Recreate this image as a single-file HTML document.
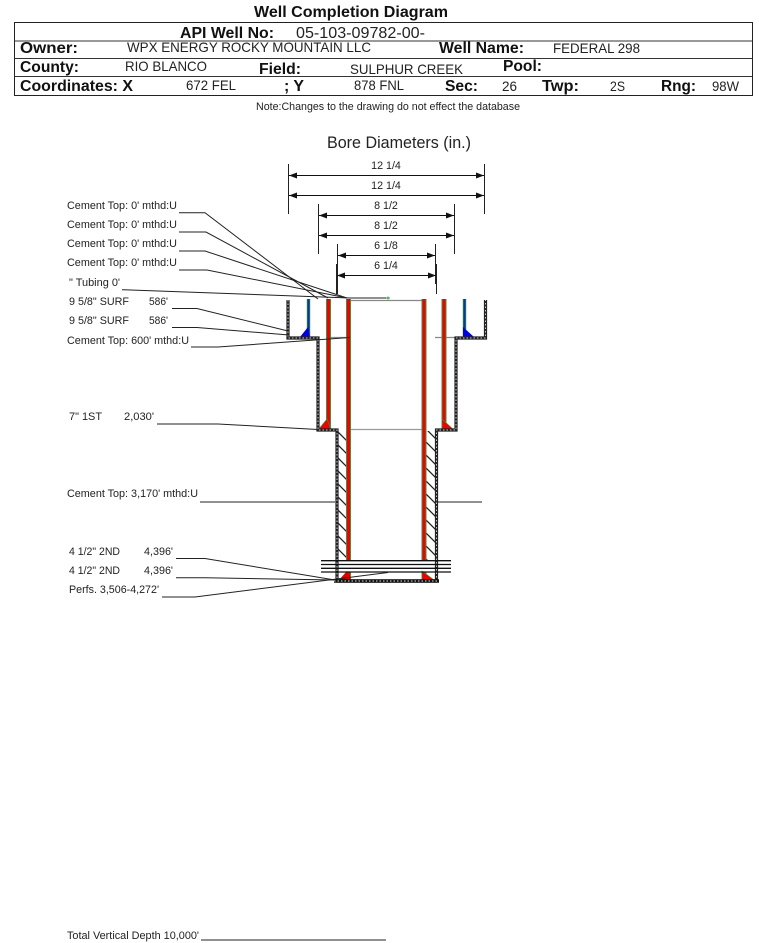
<!DOCTYPE html>
<html>
<head>
<meta charset="utf-8">
<style>
html,body{margin:0;padding:0;background:#fff;width:759px;height:943px;overflow:hidden}
svg{display:block}
text{font-family:"Liberation Sans",sans-serif;fill:#222}
.b{font-weight:bold;fill:#111;font-size:15.7px}
.s{font-size:10.7px}
.m{font-size:13.8px}
.l{fill:none;stroke:#222;stroke-width:1}
</style>
</head>
<body>
<svg width="759" height="943" viewBox="0 0 759 943" xmlns="http://www.w3.org/2000/svg">
<defs>
<pattern id="h" width="13" height="13" patternUnits="userSpaceOnUse" patternTransform="translate(337 431)">
<path d="M-2 -2L15 15M-2 11L2 15M11 -2L15 2" stroke="#222" stroke-width="1.3" fill="none"/>
</pattern>
</defs>

<!-- Header -->
<text class="b" x="254" y="17" textLength="194" lengthAdjust="spacingAndGlyphs">Well Completion Diagram</text>
<rect x="14.5" y="22.5" width="738" height="73" fill="none" stroke="#222" stroke-width="1"/>
<path d="M15 41H752M15 58.500H752M15 76.500H752" stroke="#333" stroke-width="1" fill="none"/>
<text class="b" x="180" y="38" textLength="94" lengthAdjust="spacingAndGlyphs">API Well No:</text>
<text x="296" y="38" font-size="15.5" textLength="129" lengthAdjust="spacingAndGlyphs">05-103-09782-00-</text>
<text class="b" x="20" y="53" textLength="58" lengthAdjust="spacingAndGlyphs">Owner:</text>
<text class="m" x="127" y="52" textLength="244" lengthAdjust="spacingAndGlyphs">WPX ENERGY ROCKY MOUNTAIN LLC</text>
<text class="b" x="439" y="53" textLength="85" lengthAdjust="spacingAndGlyphs">Well Name:</text>
<text class="m" x="553" y="53" textLength="87" lengthAdjust="spacingAndGlyphs">FEDERAL 298</text>
<text class="b" x="20" y="72" textLength="59" lengthAdjust="spacingAndGlyphs">County:</text>
<text class="m" x="125" y="71" textLength="82" lengthAdjust="spacingAndGlyphs">RIO BLANCO</text>
<text class="b" x="259" y="74" textLength="42" lengthAdjust="spacingAndGlyphs">Field:</text>
<text class="m" x="350" y="74" textLength="113" lengthAdjust="spacingAndGlyphs">SULPHUR CREEK</text>
<text class="b" x="503" y="71" textLength="39" lengthAdjust="spacingAndGlyphs">Pool:</text>
<text class="b" x="20" y="91" textLength="113" lengthAdjust="spacingAndGlyphs">Coordinates: X</text>
<text class="m" x="186" y="90" textLength="50" lengthAdjust="spacingAndGlyphs">672 FEL</text>
<text class="b" x="284" y="91" textLength="20" lengthAdjust="spacingAndGlyphs">; Y</text>
<text class="m" x="354" y="90" textLength="50" lengthAdjust="spacingAndGlyphs">878 FNL</text>
<text class="b" x="445" y="91" textLength="33" lengthAdjust="spacingAndGlyphs">Sec:</text>
<text class="m" x="502" y="91" textLength="15" lengthAdjust="spacingAndGlyphs">26</text>
<text class="b" x="542" y="91" textLength="37" lengthAdjust="spacingAndGlyphs">Twp:</text>
<text class="m" x="610" y="91" textLength="15" lengthAdjust="spacingAndGlyphs">2S</text>
<text class="b" x="661" y="91" textLength="35" lengthAdjust="spacingAndGlyphs">Rng:</text>
<text class="m" x="712" y="91" textLength="27" lengthAdjust="spacingAndGlyphs">98W</text>
<text class="s" x="256" y="110" textLength="264" lengthAdjust="spacingAndGlyphs">Note:Changes to the drawing do not effect the database</text>

<text x="327" y="148" font-size="16.6" textLength="144" lengthAdjust="spacingAndGlyphs">Bore Diameters (in.)</text>

<!-- Dimension ticks -->
<path class="l" d="M288.500 164V214M484.500 164V214M318.500 204V254M454.500 204V254M337.500 244V294M435.500 244V284M336.500 264V294M436.500 264V294"/>
<!-- Dimension lines -->
<g stroke="#111" stroke-width="1">
<path d="M289 175.500H484M289 195.500H484M319 215.500H454M319 235.500H454M338 255.500H435M337 275.500H436"/>
</g>
<g fill="#111">
<path d="M289 175.500l8-3v6zM484 175.500l-8-3v6zM289 195.500l8-3v6zM484 195.500l-8-3v6z"/>
<path d="M319 215.500l8-3v6zM454 215.500l-8-3v6zM319 235.500l8-3v6zM454 235.500l-8-3v6z"/>
<path d="M338 255.500l8-3v6zM435 255.500l-8-3v6zM337 275.500l8-3v6zM436 275.500l-8-3v6z"/>
</g>
<g text-anchor="middle">
<text class="s" x="386" y="169">12 1/4</text>
<text class="s" x="386" y="189">12 1/4</text>
<text class="s" x="386" y="209">8 1/2</text>
<text class="s" x="386" y="229">8 1/2</text>
<text class="s" x="386" y="249">6 1/8</text>
<text class="s" x="386" y="269">6 1/4</text>
</g>

<!-- Labels -->
<g>
<text class="s" x="67" y="209" textLength="110" lengthAdjust="spacingAndGlyphs">Cement Top: 0' mthd:U</text>
<text class="s" x="67" y="228" textLength="110" lengthAdjust="spacingAndGlyphs">Cement Top: 0' mthd:U</text>
<text class="s" x="67" y="247" textLength="110" lengthAdjust="spacingAndGlyphs">Cement Top: 0' mthd:U</text>
<text class="s" x="67" y="266" textLength="110" lengthAdjust="spacingAndGlyphs">Cement Top: 0' mthd:U</text>
<text class="s" x="69" y="286" textLength="51" lengthAdjust="spacingAndGlyphs">" Tubing 0'</text>
<text class="s" x="69" y="305" textLength="60" lengthAdjust="spacingAndGlyphs">9 5/8" SURF</text>
<text class="s" x="149" y="305" textLength="19" lengthAdjust="spacingAndGlyphs">586'</text>
<text class="s" x="69" y="324" textLength="60" lengthAdjust="spacingAndGlyphs">9 5/8" SURF</text>
<text class="s" x="149" y="324" textLength="19" lengthAdjust="spacingAndGlyphs">586'</text>
<text class="s" x="67" y="344" textLength="122" lengthAdjust="spacingAndGlyphs">Cement Top: 600' mthd:U</text>
<text class="s" x="69" y="420" textLength="33" lengthAdjust="spacingAndGlyphs">7" 1ST</text>
<text class="s" x="124" y="420" textLength="30" lengthAdjust="spacingAndGlyphs">2,030'</text>
<text class="s" x="67" y="497" textLength="131" lengthAdjust="spacingAndGlyphs">Cement Top: 3,170' mthd:U</text>
<text class="s" x="69" y="555" textLength="51" lengthAdjust="spacingAndGlyphs">4 1/2" 2ND</text>
<text class="s" x="144" y="555" textLength="29" lengthAdjust="spacingAndGlyphs">4,396'</text>
<text class="s" x="69" y="574" textLength="51" lengthAdjust="spacingAndGlyphs">4 1/2" 2ND</text>
<text class="s" x="144" y="574" textLength="29" lengthAdjust="spacingAndGlyphs">4,396'</text>
<text class="s" x="69" y="593" textLength="90" lengthAdjust="spacingAndGlyphs">Perfs. 3,506-4,272'</text>
<text class="s" x="67" y="939" textLength="132" lengthAdjust="spacingAndGlyphs">Total Vertical Depth 10,000'</text>
</g>

<!-- Hatch -->
<rect x="337" y="431" width="10" height="129" fill="url(#h)"/>
<rect x="426" y="431" width="10" height="129" fill="url(#h)"/>

<!-- Center horizontal grey lines -->
<path d="M350 300.500H423M435 337.500H455M330 337.500H350" stroke="#888" stroke-width="1.200" fill="none"/>
<path d="M350 429.500H423" stroke="#999" stroke-width="1.200" fill="none"/>

<!-- Blue strings -->
<path d="M308.500 299V336M464.500 299V336" stroke="#2d8a3e" stroke-width="3.400" fill="none"/>
<path d="M308.500 299V336M464.500 299V336" stroke="#0a2fb0" stroke-width="1.800" fill="none"/>
<path d="M300 337L308 327L310 337Z" fill="#0000e0"/>
<path d="M463 327V337H474Z" fill="#0000e0"/>

<!-- Red strings -->
<g fill="none">
<path d="M328.500 299V429M348.500 299V560M348.500 572V581M424 299V560M424 572V581M444 299V429" stroke="#2f9a3e" stroke-width="5"/>
<path d="M328.500 299V429M348.500 299V560M348.500 572V581M424 299V560M424 572V581M444 299V429" stroke="#f00000" stroke-width="3"/>
</g>
<path d="M318 430L327 419L331 430Z" fill="#f00000" stroke="#2f9a3e" stroke-width=".6"/>
<path d="M442 419V430H454Z" fill="#f00000" stroke="#2f9a3e" stroke-width=".6"/>
<path d="M339 580L347 571L351 580Z" fill="#e00000"/>
<path d="M422 571V580H434Z" fill="#f00000" stroke="#2f9a3e" stroke-width=".6"/>

<!-- Well walls -->
<g fill="none">
<path d="M288 300V338H318V430H337V581M336 581H437M436.500 581V430H456V338H485.500V300" stroke="#222" stroke-width="3.200"/>
<path d="M288 300V338H318V430H337V581M336 581H437M436.500 581V430H456V338H485.500V300" stroke="#ccc" stroke-width="1" stroke-dasharray="1.500 2"/>
<path d="M334 581H439" stroke="#111" stroke-width="3.400"/>
<path d="M334 581H439" stroke="#ddd" stroke-width="1" stroke-dasharray="1.500 2"/>
</g>

<!-- Horizontal tops in bottom section -->
<path d="M321 560.700H451M321 564.500H451M321 568.300H451M321 572H451" stroke="#111" stroke-width="1.300" fill="none"/>

<!-- Leader lines -->
<g>
<path class="l" d="M179 212.700H205L318 299"/>
<path class="l" d="M179 232H206L328 298"/>
<path class="l" d="M179 251H205L347 298"/>
<path class="l" d="M179 270H207L347 298"/>
<path class="l" d="M122 289.700L350 298H388"/>
<path class="l" d="M172 308.500H197L288 331"/>
<path class="l" d="M172 327.500H197L289 335"/>
<path class="l" d="M191 347H218L350 337.500"/>
<path class="l" d="M157 424H218L318 429.500"/>
<path class="l" d="M200 502H335M436 502H482"/>
<path class="l" d="M176 558.500H205L335 580"/>
<path class="l" d="M176 577.700H205L335 580"/>
<path class="l" d="M162 597H195L388 572.500"/>
<path class="l" d="M201 940H386"/>
</g>
<path d="M386 298H390M388 296.500V299.500" stroke="#2a9a3a" stroke-width="1" fill="none"/>
</svg>
</body>
</html>
